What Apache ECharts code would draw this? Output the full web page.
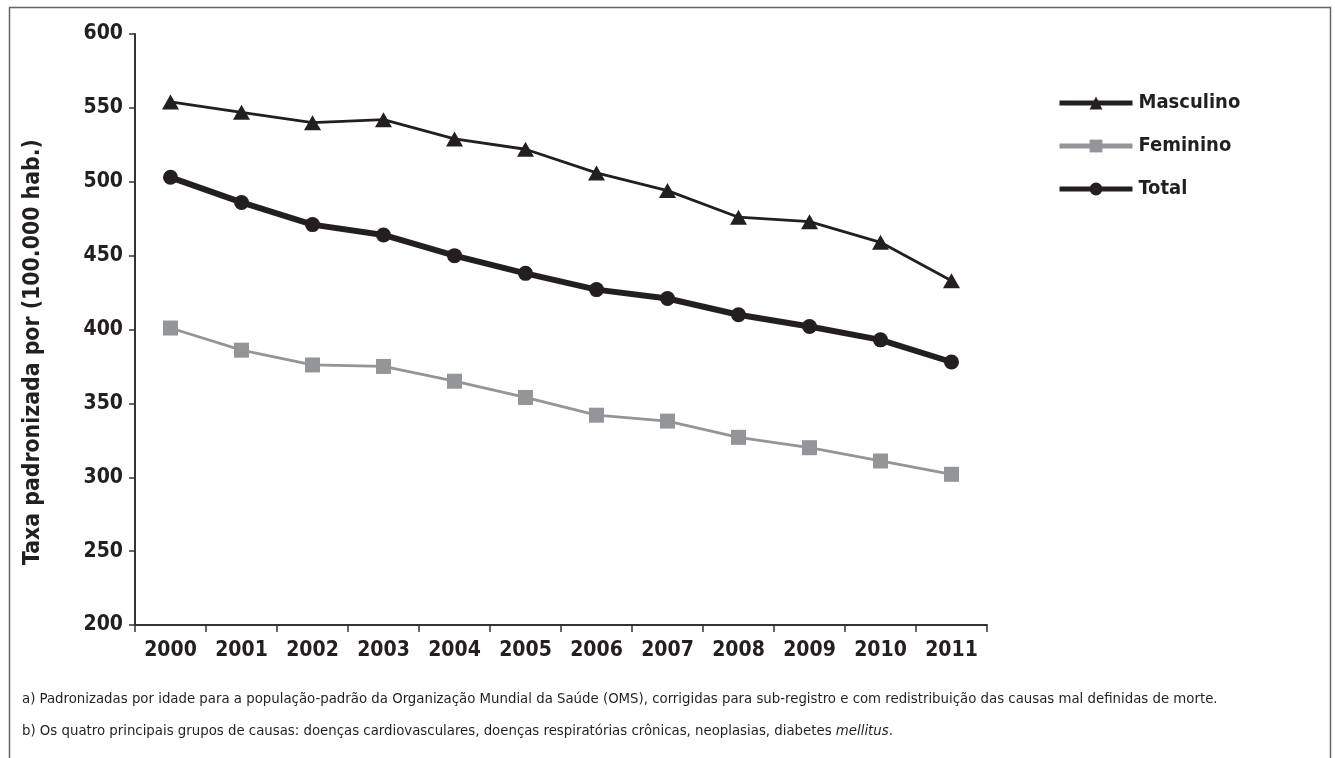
<!DOCTYPE html>
<html>
<head>
<meta charset="utf-8">
<script src="https://cdn.jsdelivr.net/npm/echarts@6/dist/echarts.min.js"></script>
<style>
html,body{margin:0;padding:0;background:#fff;}
#chart{width:1335px;height:758px;}
</style>
</head>
<body>
<div id="chart"></div>
<script>
const years = ['2000','2001','2002','2003','2004','2005','2006','2007','2008','2009','2010','2011'];
const masculino = [554, 547, 540, 542, 529, 522, 506, 494, 476, 473, 459, 433];
const feminino = [401, 386, 376, 375, 365, 354, 342, 338, 327, 320, 311, 302];
const total = [503, 486, 471, 464, 450, 438, 427, 421, 410, 402, 393, 378];
const yTicks = [200, 250, 300, 350, 400, 450, 500, 550, 600];
const yAxisTitle = 'Taxa padronizada por (100.000 hab.)';
const noteA = 'a) Padronizadas por idade para a população-padrão da Organização Mundial da Saúde (OMS), corrigidas para sub-registro e com redistribuição das causas mal definidas de morte.';
const noteB1 = 'b) Os quatro principais grupos de causas: doenças cardiovasculares, doenças respiratórias crônicas, neoplasias, diabetes ';
const noteB2 = 'mellitus';
const noteB3 = '.';

const FONT = '"DejaVu Sans Condensed", "Liberation Sans Narrow", "Open Sans", sans-serif';
const DARK = '#231f20';
const GRAY = '#939598';

const chart = echarts.init(document.getElementById('chart'), null, {renderer: 'canvas'});
chart.setOption({
  backgroundColor: '#ffffff',
  animation: false,
  grid: {left: 135, right: 348, top: 34, bottom: 133, containLabel: false},
  xAxis: {
    type: 'category',
    data: years,
    boundaryGap: true,
    axisLine: {lineStyle: {color: '#333', width: 2}},
    axisTick: {show: true, interval: 0, length: 7, lineStyle: {color: '#333', width: 1.5}},
    axisLabel: {interval: 0, color: DARK, fontFamily: FONT, fontWeight: 'bold', fontSize: 21, margin: 15},
    splitLine: {show: false}
  },
  yAxis: {
    type: 'value',
    min: yTicks[0],
    max: yTicks[yTicks.length - 1],
    interval: 50,
    axisLine: {show: true, lineStyle: {color: '#333', width: 2}},
    axisTick: {show: true, length: 6, lineStyle: {color: '#333', width: 1.5}},
    axisLabel: {color: DARK, fontFamily: FONT, fontWeight: 'bold', fontSize: 21, margin: 12},
    splitLine: {show: false}
  },
  legend: {
    orient: 'vertical',
    left: 1052,
    top: 83,
    itemWidth: 73,
    itemHeight: 16,
    itemGap: 13,
    lineStyle: {width: 5},
    textStyle: {color: DARK, fontFamily: FONT, fontWeight: 'bold', fontSize: 20, lineHeight: 30, padding: [0, 0, 0, 1]},
    data: ['Masculino', 'Feminino', 'Total']
  },
  series: [
    {
      name: 'Masculino', type: 'line', data: masculino,
      symbol: 'triangle', symbolSize: [17, 15],
      lineStyle: {color: DARK, width: 2.8},
      itemStyle: {color: DARK},
      z: 3
    },
    {
      name: 'Feminino', type: 'line', data: feminino,
      symbol: 'rect', symbolSize: 15,
      lineStyle: {color: GRAY, width: 2.8},
      itemStyle: {color: GRAY, borderRadius: 2},
      z: 3
    },
    {
      name: 'Total', type: 'line', data: total,
      symbol: 'circle', symbolSize: 15,
      lineStyle: {color: DARK, width: 6},
      itemStyle: {color: DARK},
      z: 4
    }
  ],
  graphic: [
    {
      type: 'rect', left: 7, top: 5, silent: true,
      shape: {width: 1321, height: 800},
      style: {fill: 'none', stroke: '#666', lineWidth: 1.5}
    },
    {
      type: 'text', x: 33, y: 352, rotation: Math.PI / 2,
      style: {text: yAxisTitle, fill: DARK, font: 'bold 22.8px ' + FONT, align: 'center', verticalAlign: 'middle'}
    },
    {
      type: 'text', x: 22, y: 699,
      style: {text: noteA, fill: DARK, font: '14.8px ' + FONT, verticalAlign: 'middle'}
    },
    {
      type: 'text', x: 22, y: 731,
      style: {
        text: '{n|' + noteB1 + '}{i|' + noteB2 + '}{n|' + noteB3 + '}',
        verticalAlign: 'middle',
        rich: {
          n: {fill: DARK, fontFamily: FONT, fontSize: 14.8},
          i: {fill: DARK, fontFamily: FONT, fontSize: 14.8, fontStyle: 'italic'}
        }
      }
    }
  ]
});
</script>
</body>
</html>
